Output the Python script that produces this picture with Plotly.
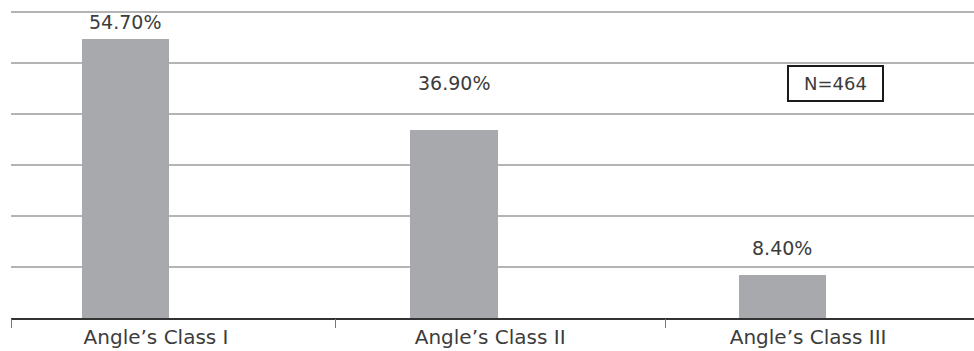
import plotly.graph_objects as go

categories = ["Angle’s Class I", "Angle’s Class II", "Angle’s Class III"]
values = [54.7, 36.9, 8.4]
value_labels = ["54.70%", "36.90%", "8.40%"]
sample_note = "N=464"

# layout / style (positions kept separate from data)
bar_x = [0, 1, 2]
label_x = [0.093, 1.110, 2.078]
boundary_ticks = [-0.3475, 0.638, 1.643]
label_shift = [4, 34, 14]
FONT = "DejaVu Sans"
TXT = "#3c3c3c"

fig = go.Figure()
fig.add_trace(go.Bar(x=bar_x, y=values, width=0.265,
                     marker=dict(color="#a7a9ac", line=dict(width=0)),
                     hoverinfo="skip", showlegend=False))
# invisible trace to carry the boundary-tick axis
fig.add_trace(go.Scatter(x=[0], y=[0], xaxis="x2", mode="markers",
                         marker=dict(opacity=0), showlegend=False, hoverinfo="skip"))

for xv, v, t, s in zip(bar_x, values, value_labels, label_shift):
    fig.add_annotation(x=xv, y=v, text=t, showarrow=False, yanchor="bottom",
                       yshift=s, font=dict(family=FONT, size=19, color=TXT))

fig.add_annotation(x=2.16, y=46.0, text=sample_note, showarrow=False,
                   font=dict(family=FONT, size=18, color=TXT),
                   bordercolor="#1a1a1a", borderwidth=2, borderpad=1,
                   width=91, height=31, bgcolor="white")

rng = [-0.3485, 2.583]
fig.update_layout(
    width=974, height=351,
    margin=dict(l=11, r=0, t=8, b=33),
    plot_bgcolor="white", paper_bgcolor="white",
    bargap=0,
    xaxis=dict(range=rng, tickvals=label_x, ticktext=categories, ticks="",
               showgrid=False, zeroline=False, showline=True,
               linecolor="#333333", linewidth=1.5,
               tickfont=dict(family=FONT, size=20, color=TXT),
               ticklabelstandoff=0),
    xaxis2=dict(range=rng, overlaying="x", anchor="y", side="bottom",
                tickvals=boundary_ticks, ticks="outside", ticklen=9,
                tickcolor="#777777", tickwidth=1, showticklabels=False,
                showgrid=False, zeroline=False, showline=False),
    yaxis=dict(range=[0, 60.78], tickvals=[10, 20, 30, 40, 50, 60],
               showticklabels=False, ticks="",
               showgrid=True, gridcolor="#b4b4b4", gridwidth=1.5,
               zeroline=False, showline=False),
)

fig.write_html("out.html")
